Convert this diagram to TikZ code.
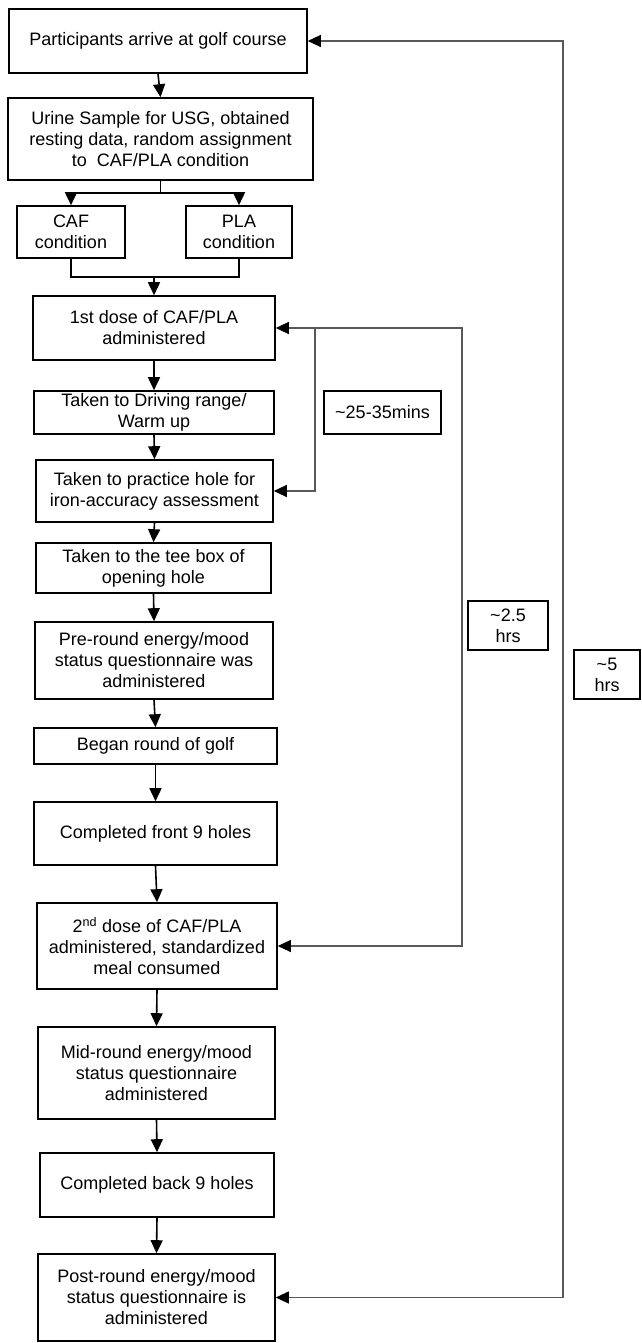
\documentclass[tikz,border=0pt]{standalone}
\usepackage{fontspec}
\setmainfont{Liberation Sans}
\usetikzlibrary{arrows.meta}
\begin{document}
\begin{tikzpicture}[x=1pt,y=-1pt,
    stepbox/.style={draw,line width=1.6pt,align=center,inner sep=0pt,font=\fontsize{18}{21}\selectfont},
    flow/.style={line width=1.6pt,-{Triangle[width=12pt,length=13pt]}},
    joinline/.style={line width=1.6pt},
    span/.style={line width=1.1pt,draw=black!65},
    spantips/.style={span,{Triangle[width=12pt,length=13pt,color=black]}-{Triangle[width=12pt,length=13pt,color=black]}},
    spanarrow/.style={span,-{Triangle[width=12pt,length=13pt,color=black]}}]
        \useasboundingbox (0,0) rectangle (641,1343);
        %% Steps
        \node[stepbox,minimum width=298pt,minimum height=64pt] (arrive) at (158,41) {Participants arrive at golf course};
        \node[stepbox,minimum width=305pt,minimum height=82pt] (urine) at (160.5,139) {Urine Sample for USG, obtained\\resting data, random assignment\\to\ \ CAF/PLA condition};
        \node[stepbox,minimum width=108pt,minimum height=52pt] (caf) at (71,232) {CAF\\condition};
        \node[stepbox,minimum width=106pt,minimum height=52pt] (pla) at (239,232) {PLA\\condition};
        \node[stepbox,minimum width=242pt,minimum height=64pt] (dose1) at (154,328) {1st dose of CAF/PLA\\administered};
        \node[stepbox,minimum width=240pt,minimum height=43pt] (range) at (154,412.5) {Taken to Driving range/\\Warm up};
        \node[stepbox,minimum width=237pt,minimum height=62pt] (practice) at (154.5,491) {Taken to practice hole for\\iron-accuracy assessment};
        \node[stepbox,minimum width=235pt,minimum height=50pt] (tee) at (153.5,568) {Taken to the tee box of\\opening hole};
        \node[stepbox,minimum width=238pt,minimum height=77pt] (pre) at (154,660.5) {Pre-round energy/mood\\status questionnaire was\\administered};
        \node[stepbox,minimum width=243pt,minimum height=36pt] (began) at (155.5,746) {Began round of golf};
        \node[stepbox,minimum width=243pt,minimum height=63pt] (front) at (155.5,833.5) {Completed front 9 holes};
        \node[stepbox,minimum width=240pt,minimum height=86pt] (dose2) at (157,946) {2\textsuperscript{nd} dose of CAF/PLA\\administered, standardized\\meal consumed};
        \node[stepbox,minimum width=237pt,minimum height=92pt] (mid) at (156.5,1073) {Mid-round energy/mood\\status questionnaire\\administered};
        \node[stepbox,minimum width=234pt,minimum height=64pt] (back) at (157,1185) {Completed back 9 holes};
        \node[stepbox,minimum width=237pt,minimum height=87pt] (post) at (156.5,1297.5) {Post-round energy/mood\\status questionnaire is\\administered};
        %% Times
        \node[stepbox,minimum width=117pt,minimum height=43pt] (mins) at (382.5,412.5) {\textasciitilde25-35mins};
        \node[stepbox,minimum width=80pt,minimum height=49pt] (halfday) at (508,625.5) {\textasciitilde2.5\\hrs};
        \node[stepbox,minimum width=66pt,minimum height=49pt] (fullday) at (607,674.5) {\textasciitilde5\\hrs};
        %% Flow arrows
        \coordinate (splity) at (0,193);
        \coordinate (mergey) at (0,277);
        \draw[flow] (arrive.south) -- (urine.north);
        \draw[joinline] (urine.south) -- (urine.south |- splity);
        \draw[joinline] (caf.north |- splity) -- (pla.north |- splity);
        \draw[flow] (caf.north |- splity) -- (caf.north);
        \draw[flow] (pla.north |- splity) -- (pla.north);
        \draw[joinline] (caf.south) -- (caf.south |- mergey) -- (pla.south |- mergey) -- (pla.south);
        \draw[flow] (dose1.north |- mergey) -- (dose1.north);
        \draw[flow] (dose1.south) -- (range.north);
        \draw[flow] (range.south) -- (practice.north);
        \draw[flow] (practice.south) -- (tee.north);
        \draw[flow] (tee.south) -- (pre.north);
        \draw[flow] (pre.south) -- (began.north);
        \draw[flow] (began.south) -- (front.north);
        \draw[flow] (front.south) -- (dose2.north);
        \draw[flow] (dose2.south) -- (mid.north);
        \draw[flow] (mid.south) -- (back.north);
        \draw[flow] (back.south) -- (post.north);
        %% Time spans
        \coordinate (minsx) at (315,0);
        \coordinate (halfx) at (462,0);
        \coordinate (fullx) at (563,0);
        \draw[spantips] (dose1.east) -- (dose1.east -| halfx) -- (dose2.east -| halfx) -- (dose2.east);
        \draw[spanarrow] (dose1.east -| minsx) -- (practice.east -| minsx) -- (practice.east);
        \draw[spantips] (arrive.east) -- (arrive.east -| fullx) -- (post.east -| fullx) -- (post.east);
    \end{tikzpicture}
\end{document}
